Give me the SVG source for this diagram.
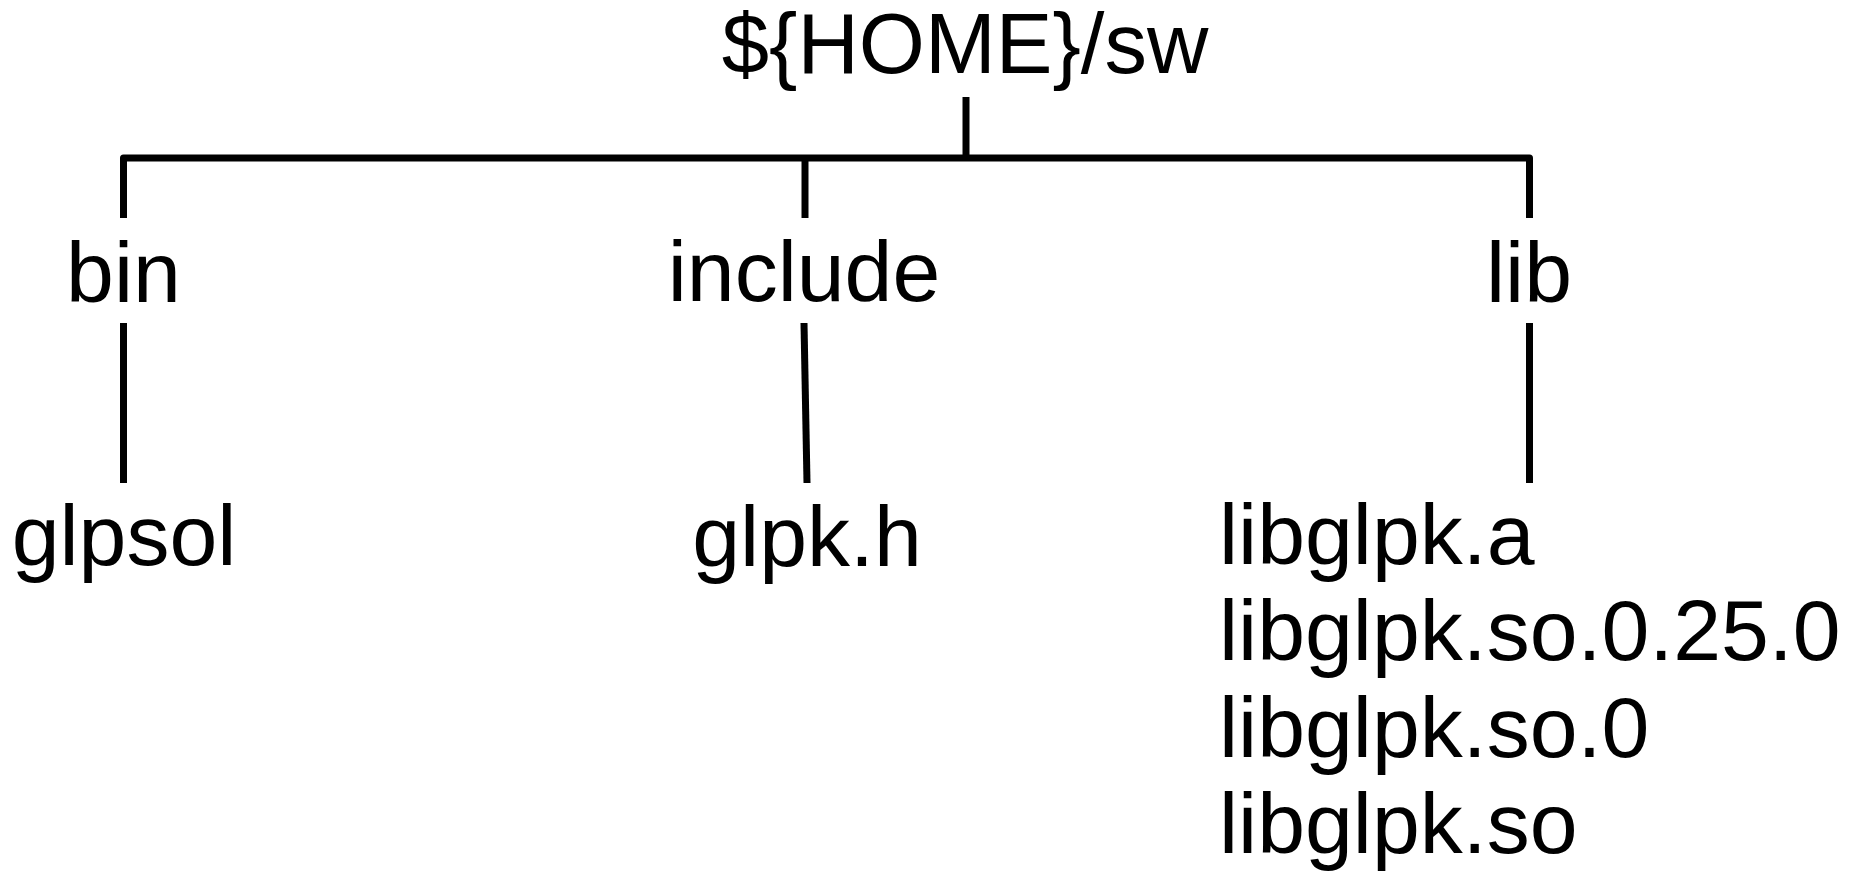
<svg xmlns="http://www.w3.org/2000/svg" width="1851" height="872" viewBox="0 0 1851 872">
  <style>
    .t { font-family: "Liberation Sans", Arial, sans-serif; fill: #000; }
    .c { font-size: 86px; }
    .m { text-anchor: middle; }
    .ln { stroke: #000; stroke-width: 7; fill: none; stroke-linejoin: round; }
  </style>
  <rect width="1851" height="872" fill="#fff"/>
  <g id="connectors">
    <path class="ln" d="M966 97 V158"/>
    <path class="ln" d="M123.5 218 V158 H1529.5 V218"/>
    <path class="ln" d="M805 158 V218"/>
    <path class="ln" d="M123.5 323 V483"/>
    <path class="ln" d="M804 323 L807 483"/>
    <path class="ln" d="M1529.5 323 V483"/>
  </g>
  <g id="root">
    <text class="t m" x="965" y="73" font-size="85">${HOME}/sw</text>
  </g>
  <g id="bin">
    <text class="t c m" x="123.5" y="302">bin</text>
  </g>
  <g id="include">
    <text class="t c m" x="804" y="301">include</text>
  </g>
  <g id="lib">
    <text class="t c m" x="1529" y="302">lib</text>
  </g>
  <g id="glpsol">
    <text class="t c m" x="124" y="565">glpsol</text>
  </g>
  <g id="glpk-h">
    <text class="t c m" x="807" y="566">glpk.h</text>
  </g>
  <g id="lib-files">
    <text class="t c" x="1219" y="564">libglpk.a</text>
    <text class="t c" x="1219" y="660">libglpk.so.0.25.0</text>
    <text class="t c" x="1219" y="757">libglpk.so.0</text>
    <text class="t c" x="1219" y="853">libglpk.so</text>
  </g>
</svg>
